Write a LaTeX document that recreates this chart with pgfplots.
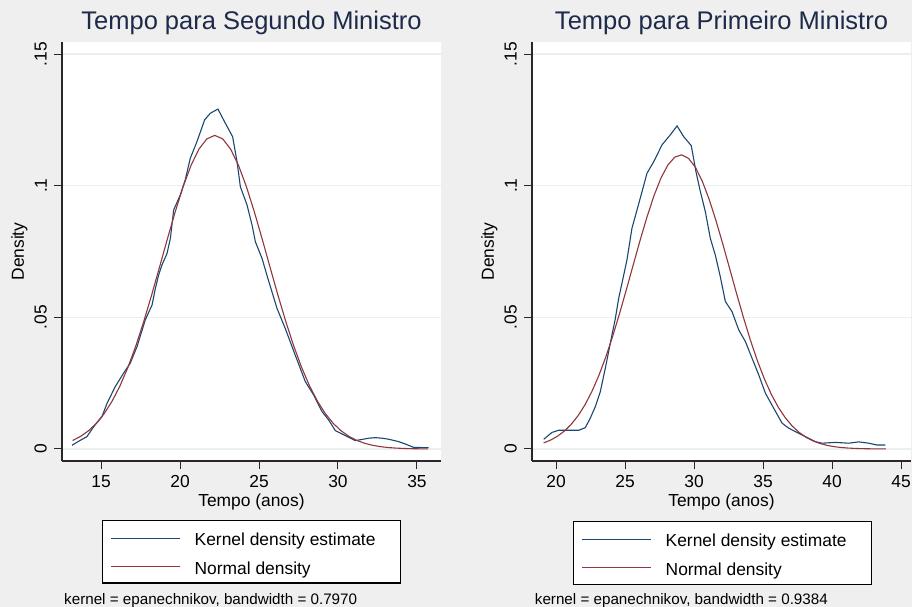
\documentclass[border=0pt]{standalone}
\usepackage{pgfplots}
\pgfplotsset{compat=1.18}
\usepackage{fontspec}
\setmainfont{Liberation Sans}

\definecolor{bgcol}{RGB}{239,239,239}
\definecolor{gridcol}{RGB}{232,240,241}
\definecolor{kdecol}{RGB}{26,71,111}
\definecolor{normcol}{RGB}{144,53,59}
\definecolor{titlecol}{RGB}{30,42,74}
\definecolor{axcol}{RGB}{40,40,40}

% Kernel density estimate and normal density, second minister
\pgfplotstableread{
x d
13.16 0.0014
13.60 0.0030
14.11 0.0047
14.54 0.0085
15.06 0.0123
15.38 0.0173
15.90 0.0237
16.43 0.0288
16.85 0.0326
17.28 0.0389
17.80 0.0490
18.23 0.0547
18.44 0.0610
18.65 0.0661
18.86 0.0699
19.18 0.0743
19.39 0.0800
19.60 0.0908
20.02 0.0965
20.33 0.1022
20.65 0.1104
21.07 0.1167
21.56 0.1250
21.92 0.1275
22.40 0.1291
22.87 0.1237
23.33 0.1186
23.61 0.1091
23.82 0.0996
24.24 0.0927
24.56 0.0850
24.77 0.0787
25.19 0.0724
25.55 0.0650
26.14 0.0534
26.66 0.0458
27.29 0.0357
27.93 0.0256
28.46 0.0205
28.99 0.0142
29.41 0.0110
29.83 0.0070
30.46 0.0051
31.09 0.0032
31.50 0.0036
31.94 0.0041
32.36 0.0043
32.80 0.0041
33.21 0.0037
33.84 0.0028
34.26 0.0019
34.79 0.0006
35.74 0.0005
}\kdeA

\pgfplotstableread{
x d
13.2 0.003225
13.7 0.004764
14.2 0.006882
14.7 0.009716
15.2 0.01342
15.7 0.01814
16.2 0.02395
16.7 0.03094
17.2 0.03910
17.7 0.04832
18.2 0.05838
18.7 0.06900
19.2 0.07976
19.7 0.09015
20.2 0.09966
20.7 0.10774
21.2 0.11391
21.7 0.11778
22.2 0.11910
22.7 0.11778
23.2 0.11391
23.7 0.10774
24.2 0.09966
24.7 0.09015
25.2 0.07976
25.7 0.06900
26.2 0.05838
26.7 0.04832
27.2 0.03910
27.7 0.03094
28.2 0.02395
28.7 0.01814
29.2 0.01342
29.7 0.009716
30.2 0.006882
30.7 0.004764
31.2 0.003225
31.7 0.002137
32.2 0.001384
32.7 0.000876
33.2 0.000543
33.7 0.000329
34.2 0.000195
34.7 0.000113
35.2 0.000064
35.7 0.000035
}\normA

% Kernel density estimate and normal density, prime minister
\pgfplotstableread{
x d
19.11 0.0037
19.71 0.0063
20.19 0.0071
21.64 0.0071
22.12 0.0081
22.48 0.0117
22.85 0.0161
23.21 0.0218
23.57 0.0306
23.93 0.0401
24.30 0.0496
24.54 0.0572
24.78 0.0630
25.14 0.0718
25.50 0.0838
25.87 0.0908
26.23 0.0977
26.59 0.1047
27.08 0.1091
27.68 0.1155
28.28 0.1193
28.77 0.1227
29.25 0.1186
29.80 0.1152
30.14 0.1053
30.46 0.0977
30.82 0.0901
31.18 0.0800
31.54 0.0737
31.90 0.0655
32.27 0.0560
32.75 0.0522
33.24 0.0452
33.72 0.0408
34.20 0.0345
34.69 0.0281
35.17 0.0212
35.77 0.0155
36.38 0.0098
36.86 0.0079
37.83 0.0053
38.79 0.0028
39.27 0.0022
40.24 0.0025
41.21 0.0022
41.93 0.0027
42.66 0.0022
43.26 0.0015
43.86 0.0015
}\kdeB

\pgfplotstableread{
x d
19.1 0.002298
19.6 0.003362
20.1 0.004823
20.6 0.006784
21.1 0.009358
21.6 0.012659
22.1 0.01679
22.6 0.02184
23.1 0.02786
23.6 0.03484
24.1 0.04272
24.6 0.05137
25.1 0.06057
25.6 0.07003
26.1 0.07940
26.6 0.08827
27.1 0.09622
27.6 0.10285
28.1 0.10781
28.6 0.11082
29.1 0.11170
29.6 0.11038
30.1 0.10698
30.6 0.10166
31.1 0.09472
31.6 0.08655
32.1 0.07755
32.6 0.06813
33.1 0.05869
33.6 0.04958
34.1 0.04107
34.6 0.03336
35.1 0.02657
35.6 0.02075
36.1 0.01589
36.6 0.01194
37.1 0.00879
37.6 0.00635
38.1 0.00449
38.6 0.00312
39.1 0.00213
39.6 0.00142
40.1 0.000928
40.6 0.000596
41.1 0.000375
41.6 0.000232
42.1 0.000140
42.6 0.000083
43.1 0.000048
43.6 0.000028
43.9 0.000020
}\normB

\pgfplotsset{
  panel/.style={
    scale only axis, width=379bp, height=419bp,
    ymin=-0.00456, ymax=0.15456,
    axis background/.style={fill=white},
    axis x line*=bottom, axis y line*=left,
    axis line style={line width=1.2bp, color=axcol, -},
    ytick={0,0.05,0.1,0.15}, yticklabels={0,.05,.1,.15},
    ymajorgrids, grid style={gridcol, line width=1.5bp},
    tick align=outside, major tick length=8bp,
    tick style={line width=1bp, color=axcol},
    tick label style={font=\fontsize{17.4bp}{20bp}\selectfont},
    /pgf/number format/assume math mode=true,
    yticklabel style={rotate=90, anchor=south, inner sep=0pt},
    yticklabel shift=7bp,
    xticklabel style={anchor=north, inner sep=0pt},
    xticklabel shift=6bp,
    title style={at={(axis description cs:0.5,1.0160)}, anchor=base,
      font=\fontsize{25.5bp}{28bp}\selectfont, color=titlecol},
    xlabel={Tempo (anos)},
    xlabel style={at={(axis description cs:0.5,-0.1074)}, anchor=base,
      font=\fontsize{17.4bp}{20bp}\selectfont},
    ylabel={Density},
    ylabel style={at={(axis description cs:-0.1003,0.5)}, anchor=base,
      font=\fontsize{17.4bp}{20bp}\selectfont},
    legend cell align=left,
    legend image code/.code={\draw[#1] (0bp,-0.8bp) -- (69bp,-0.8bp);},
    legend style={anchor=north west, draw=black, line width=1.2bp, fill=white,
      inner xsep=8bp, inner ysep=5bp, row sep=4.5bp, column sep=14bp,
      nodes={inner sep=0pt, text height=20bp, text depth=4bp,
        font=\fontsize{17.4bp}{20bp}\selectfont}},
    kde/.style={kdecol, line width=1.1bp},
    nrm/.style={normcol, line width=1.1bp},
  },
}

\begin{document}
\begin{tikzpicture}
\useasboundingbox (0,0) rectangle (912bp,607bp);
\fill[bgcol] (0,0) rectangle (912bp,607bp);

\begin{axis}[panel, at={(62bp,146bp)}, anchor=south west,
  xmin=12.53, xmax=36.52, xtick={15,20,25,30,35},
  title={Tempo para Segundo Ministro},
  legend style={at={(axis description cs:0.1055,-0.1408)}}]
  \addplot[kde] table[x=x, y=d] {\kdeA};
  \addlegendentry{\makebox[198bp][l]{Kernel density estimate}}
  \addplot[nrm] table[x=x, y=d] {\normA};
  \addlegendentry{\makebox[198bp][l]{Normal density}}
\end{axis}

\begin{axis}[panel, at={(532bp,146bp)}, anchor=south west,
  xmin=18.26, xmax=45.72, xtick={20,25,30,35,40,45},
  title={Tempo para Primeiro Ministro},
  legend style={at={(axis description cs:0.1082,-0.1432)}}]
  \addplot[kde] table[x=x, y=d] {\kdeB};
  \addlegendentry{\makebox[198bp][l]{Kernel density estimate}}
  \addplot[nrm] table[x=x, y=d] {\normB};
  \addlegendentry{\makebox[198bp][l]{Normal density}}
\end{axis}

\node[anchor=base west, inner sep=0pt, font=\fontsize{15.2bp}{17bp}\selectfont]
  at (64bp,3bp) {kernel = epanechnikov, bandwidth = 0.7970};
\node[anchor=base west, inner sep=0pt, font=\fontsize{15.2bp}{17bp}\selectfont]
  at (534.7bp,3bp) {kernel = epanechnikov, bandwidth = 0.9384};
\end{tikzpicture}
\end{document}
